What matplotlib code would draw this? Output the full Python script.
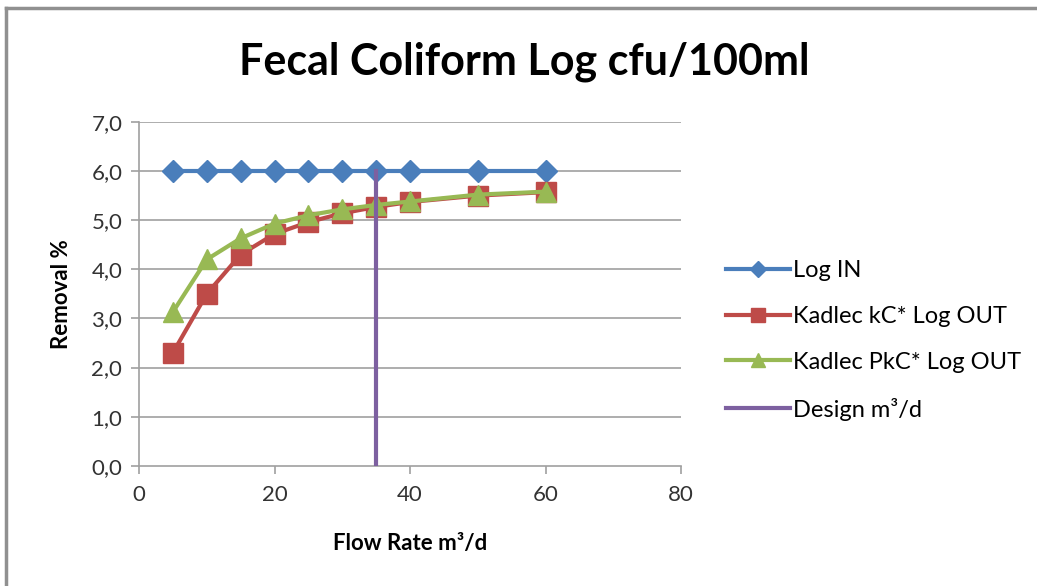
import matplotlib.pyplot as plt
from matplotlib.lines import Line2D

plt.rcParams['font.family'] = ['Lato', 'DejaVu Sans']

flow = [5, 10, 15, 20, 25, 30, 35, 40, 50, 60]
log_in = [6.0, 6.0, 6.0, 6.0, 6.0, 6.0, 6.0, 6.0, 6.0, 6.0]
kc_out = [2.3, 3.5, 4.3, 4.72, 4.96, 5.14, 5.27, 5.37, 5.5, 5.57]
pkc_out = [3.13, 4.2, 4.63, 4.93, 5.1, 5.22, 5.31, 5.38, 5.52, 5.58]
design_x = [35, 35]
design_y = [0, 6.0]

yticks = [0, 1, 2, 3, 4, 5, 6, 7]
ytick_labels = ['0,0', '1,0', '2,0', '3,0', '4,0', '5,0', '6,0', '7,0']
xticks = [0, 20, 40, 60, 80]

fig = plt.figure(figsize=(10.37, 5.86), dpi=100)
ax = fig.add_axes([0.134, 0.205, 0.523, 0.587])

# gridlines
for y in yticks[1:]:
    ax.axhline(y, color='#a0a0a0', linewidth=1.2, zorder=0)

ax.plot(flow, log_in, color='#4a7ebb', linewidth=3, marker='D', markersize=11,
        label='Log IN', zorder=3)
ax.plot(flow, kc_out, color='#be4b48', linewidth=3, marker='s', markersize=15,
        label='Kadlec kC* Log OUT', zorder=4)
ax.plot(flow, pkc_out, color='#98b954', linewidth=3, marker='^', markersize=15,
        label='Kadlec PkC* Log OUT', zorder=5)
ax.plot(design_x, design_y, color='#7d60a0', linewidth=3,
        label='Design m³/d', zorder=6)

ax.set_xlim(0, 80)
ax.set_ylim(0, 7)
ax.set_xticks(xticks)
ax.set_yticks(yticks)
ax.set_yticklabels(ytick_labels)
ax.tick_params(axis='both', labelsize=16, color='#a0a0a0', length=6,
               width=1.2, labelcolor='#333333')
ax.tick_params(axis='y', pad=6)
ax.tick_params(axis='x', pad=8)
for s in ['top', 'right']:
    ax.spines[s].set_visible(False)
for s in ['left', 'bottom']:
    ax.spines[s].set_color('#a0a0a0')
    ax.spines[s].set_linewidth(1.2)

ax.set_xlabel('Flow Rate m³/d', fontsize=16, fontweight='bold', labelpad=20)
ax.set_ylabel('Removal %', fontsize=16, fontweight='bold', labelpad=14)

fig.text(0.506, 0.895, 'Fecal Coliform Log cfu/100ml', fontsize=31,
         fontweight='bold', ha='center', va='center')

ax.legend(loc='center left', bbox_to_anchor=(1.065, 0.365), frameon=False,
          fontsize=17, labelspacing=1.05, handlelength=2.7, handletextpad=0.15,
          borderaxespad=0, markerscale=0.7)

# chart border (top and left visible)
fig.add_artist(Line2D([0.006, 0.006], [0, 0.986], color='#909090',
                      linewidth=2.5, transform=fig.transFigure))
fig.add_artist(Line2D([0.006, 1], [0.986, 0.986], color='#909090',
                      linewidth=2.5, transform=fig.transFigure))

fig.savefig('out.png', dpi=100)
